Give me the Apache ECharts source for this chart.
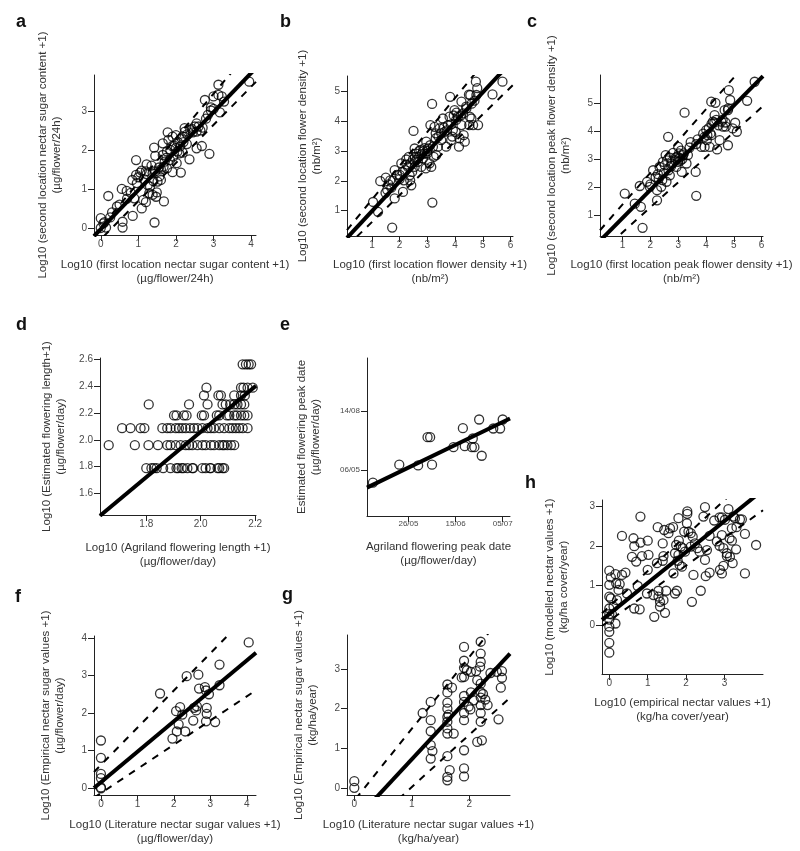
<!DOCTYPE html>
<html><head><meta charset="utf-8">
<script src="https://cdn.jsdelivr.net/npm/echarts@6/dist/echarts.min.js"></script>
<style>html,body{margin:0;padding:0;background:#fff}#c{width:800px;height:851px}</style>
</head><body><div id="c"></div>
<script>
// ---------- DATA ----------
const aPoints = [[0,0.25],[0,0],[0.14,0.01],[0.07,0.12],[0.58,0.01],[0.58,0.16],[0.25,0.27],[0.43,0.55],[0.2,0.82],[0.56,1.0],[0.69,0.95],[0.84,1.23],[0.85,0.31],[0.89,0.76],[0.94,1.74],[0.96,1.15],[0.94,1.36],[1.05,1.42],[1.09,1.47],[1.09,0.5],[1.13,0.72],[1.2,0.66],[1.22,1.38],[1.22,1.63],[1.29,0.89],[1.31,1.06],[1.38,0.85],[1.38,1.4],[1.42,2.06],[1.45,1.85],[1.43,0.14],[1.47,0.8],[1.49,0.91],[1.51,1.19],[1.56,1.32],[1.6,1.23],[1.65,2.17],[1.65,1.87],[1.67,1.57],[1.68,0.68],[1.76,1.53],[1.76,1.96],[1.78,2.45],[1.8,2.26],[1.84,1.74],[1.91,2.34],[1.91,1.43],[1.93,1.83],[1.95,2.11],[2.0,2.38],[2.02,1.66],[2.04,1.96],[2.09,1.91],[2.11,2.09],[2.13,1.42],[2.18,1.93],[2.18,2.34],[2.23,2.56],[2.24,2.47],[2.29,2.15],[2.36,1.76],[2.38,2.51],[2.42,2.54],[2.55,2.68],[2.55,2.47],[2.55,2.04],[2.69,2.1],[2.71,2.57],[2.77,3.28],[2.89,1.9],[2.93,3.01],[2.93,3.09],[3.0,3.37],[3.13,3.41],[3.17,2.96],[3.22,3.37],[3.28,3.24],[3.13,3.67],[3.95,3.75],[1.0,1.3],[1.15,1.25],[1.35,1.6],[1.55,1.55],[1.7,1.7],[1.85,2.0],[1.9,2.1],[2.0,2.05],[2.05,2.2],[1.75,1.8],[2.15,2.3],[2.3,2.4],[2.45,2.45],[2.6,2.6],[2.65,2.5],[0.3,0.4],[0.1,0.15],[0.5,0.6],[0.7,0.75],[0.8,0.9],[1.25,1.1],[1.4,1.2],[1.6,1.5],[2.2,2.2],[2.5,2.6],[2.8,2.8],[2.85,2.9],[3.0,3.05],[1.45,1.45],[1.2,1.45]];
const bPoints = [[1.04,1.29],[1.22,0.96],[1.3,1.99],[1.49,1.6],[1.5,2.11],[1.6,1.88],[1.66,2.02],[1.7,1.77],[1.73,0.43],[1.82,2.36],[1.82,1.41],[2.0,2.06],[2.06,2.59],[2.12,1.63],[2.15,2.02],[2.2,2.36],[2.24,2.72],[2.3,2.47],[2.33,2.81],[2.36,2.19],[2.38,2.02],[2.42,1.85],[2.45,2.3],[2.48,2.72],[2.5,3.68],[2.54,3.09],[2.54,2.47],[2.6,2.92],[2.66,2.64],[2.7,2.81],[2.75,3.04],[2.78,2.47],[2.84,2.75],[2.9,2.92],[2.94,2.42],[2.96,3.32],[2.99,2.92],[3.02,3.09],[3.08,2.59],[3.11,3.88],[3.17,4.59],[3.18,1.27],[3.14,2.47],[3.2,3.15],[3.23,2.81],[3.26,3.82],[3.3,3.43],[3.32,2.87],[3.38,3.15],[3.44,3.77],[3.5,3.37],[3.56,4.1],[3.62,3.65],[3.68,3.15],[3.74,3.88],[3.8,4.16],[3.86,3.37],[3.9,3.49],[3.82,4.83],[3.92,3.71],[3.98,4.38],[4.02,3.65],[4.04,4.05],[4.1,4.16],[4.14,3.15],[4.16,3.43],[4.23,4.67],[4.23,3.88],[4.29,4.27],[4.31,3.54],[4.35,3.32],[4.41,4.44],[4.53,4.16],[4.51,3.88],[4.55,4.89],[4.59,4.1],[4.65,3.88],[4.75,5.34],[4.77,4.89],[4.83,3.88],[4.8,5.12],[5.35,4.91],[5.71,5.34],[2.0,2.2],[2.1,2.3],[2.25,2.55],[2.4,2.6],[2.6,2.7],[2.7,3.0],[2.8,2.9],[2.9,3.1],[3.0,3.0],[3.1,3.2],[3.3,3.6],[3.5,3.6],[3.6,3.8],[3.7,3.7],[3.85,3.9],[3.95,4.2],[4.05,4.3],[4.2,4.2],[4.4,4.5],[4.6,4.6],[4.7,4.7],[1.55,1.7],[1.75,2.0],[1.9,2.2],[2.55,2.8],[2.85,3.0],[3.4,3.5],[4.5,4.9]];
const cPoints = [[1.08,1.77],[1.44,1.41],[1.72,0.55],[1.66,1.3],[1.62,2.04],[1.88,2.19],[1.98,2.01],[2.19,2.36],[2.24,1.53],[2.24,1.89],[2.27,2.46],[2.33,2.72],[2.39,2.01],[2.43,2.25],[2.48,2.51],[2.52,2.78],[2.55,3.14],[2.58,2.19],[2.64,3.79],[2.7,3.05],[2.7,2.42],[2.76,2.84],[2.82,3.22],[2.88,2.96],[2.94,2.72],[2.96,3.08],[3.0,3.43],[3.03,3.2],[3.08,2.94],[3.13,2.54],[3.18,3.14],[3.23,4.65],[3.3,2.84],[3.35,3.14],[3.41,3.41],[3.63,2.54],[3.65,1.69],[3.65,3.53],[3.83,3.43],[3.95,3.43],[3.95,3.79],[4.01,4.03],[4.03,3.67],[4.13,3.43],[4.16,3.91],[4.19,3.85],[4.25,4.33],[4.31,4.56],[4.37,4.39],[4.4,3.34],[4.49,3.67],[4.19,5.04],[4.34,5.0],[4.55,4.33],[4.61,4.15],[4.67,4.74],[4.71,4.15],[4.79,4.74],[4.79,3.49],[4.82,5.45],[4.87,5.1],[4.96,4.09],[5.05,4.29],[5.11,3.97],[5.48,5.07],[5.75,5.75],[2.1,2.6],[2.3,2.3],[2.6,2.95],[2.65,2.6],[2.75,2.75],[2.9,3.05],[3.0,2.9],[3.05,3.05],[3.1,3.3],[3.15,3.0],[3.2,3.2],[3.45,3.6],[3.7,3.7],[3.9,3.9],[4.05,3.85],[4.1,4.1],[4.2,4.25],[4.3,4.3],[4.45,4.2],[4.6,4.4],[4.7,4.3],[4.8,4.8],[2.45,2.9],[2.0,2.1]];
const dPoints = [[1.662,1.96],[1.758,1.96],[1.808,1.96],[1.843,1.96],[1.877,1.96],[1.889,1.96],[1.908,1.96],[1.926,1.96],[1.945,1.96],[1.957,1.96],[1.969,1.96],[1.988,1.96],[2.006,1.96],[2.018,1.96],[2.037,1.96],[2.049,1.96],[2.068,1.96],[2.08,1.96],[2.086,1.96],[2.098,1.96],[2.111,1.96],[2.123,1.96],
[1.711,2.087],[1.742,2.087],[1.779,2.087],[1.793,2.087],[1.859,2.087],[1.877,2.087],[1.889,2.087],[1.908,2.087],[1.92,2.087],[1.932,2.087],[1.945,2.087],[1.961,2.087],[1.975,2.087],[1.988,2.087],[2.006,2.087],[2.025,2.087],[2.037,2.087],[2.049,2.087],[2.068,2.087],[2.086,2.087],[2.105,2.087],[2.117,2.087],[2.129,2.087],[2.141,2.087],[2.154,2.087],[2.172,2.087],
[1.80,1.789],[1.819,1.789],[1.828,1.789],[1.838,1.789],[1.862,1.789],[1.889,1.789],[1.911,1.789],[1.917,1.789],[1.930,1.789],[1.936,1.789],[1.951,1.789],[1.969,1.789],[1.972,1.789],[2.006,1.789],[2.018,1.789],[2.034,1.789],[2.037,1.789],[2.062,1.789],[2.068,1.789],[2.080,1.789],[2.086,1.789],
[1.902,2.182],[1.911,2.182],[1.938,2.182],[1.948,2.182],[2.004,2.182],[2.012,2.182],[2.059,2.182],[2.068,2.182],[2.096,2.182],[2.105,2.182],[2.123,2.182],[2.133,2.182],[2.148,2.182],[2.160,2.182],[2.172,2.182],
[1.809,2.264],[1.957,2.264],[2.025,2.264],[2.080,2.264],[2.092,2.264],[2.108,2.264],[2.123,2.264],[2.135,2.264],[2.148,2.264],[2.160,2.264],
[2.012,2.331],[2.065,2.331],[2.074,2.331],[2.123,2.331],[2.148,2.331],[2.162,2.331],
[2.021,2.389],[2.148,2.389],[2.157,2.389],[2.172,2.389],[2.191,2.389],
[2.154,2.563],[2.166,2.563],[2.176,2.563],[2.185,2.563]];
// panel e: day of year
const ePoints = [[130.9,104.6],[142.1,135.2],[150.1,134],[156.0,135.2],[154.1,182],[155.2,182],[165.1,165],[169.1,197.2],[169.9,166.7],[172.9,165],[174.0,165],[173.3,179.7],[176.0,212],[177.1,150.4],[182.0,196.7],[184.9,196.7],[186.0,212]];
const fPoints = [[0,1.27],[0,0.81],[0,0.38],[0,0.27],[0,0],[0,0.02],[1.62,2.52],[2.35,2.98],[2.67,3.02],[1.96,1.32],[2.08,1.51],[2.06,2.05],[2.17,2.16],[2.13,1.7],[2.23,1.96],[2.31,1.51],[2.53,1.8],[2.55,2.14],[2.61,2.07],[2.63,2.18],[2.69,2.65],[2.85,2.69],[2.88,2.6],[2.96,2.5],[2.9,2.14],[2.9,1.98],[2.88,1.78],[3.13,1.76],[3.25,3.29],[3.25,2.74],[4.05,3.88]];
const gPoints = [[0,0.17],[0,0],[1.19,1.89],[1.33,2.17],[1.33,1.71],[1.33,1.43],[1.33,1.08],[1.36,0.93],[1.33,0.74],[1.62,2.61],[1.62,2.41],[1.7,2.53],[1.62,2.15],[1.62,2.0],[1.64,1.85],[1.62,1.79],[1.62,1.67],[1.62,1.5],[1.62,1.37],[1.73,1.37],[1.62,0.8],[1.66,0.45],[1.62,0.28],[1.62,0.19],[1.91,3.56],[1.91,3.21],[1.91,3.03],[1.87,2.79],[1.91,2.8],[1.91,2.32],[1.91,2.17],[1.91,1.89],[1.91,1.71],[1.91,0.95],[1.91,0.49],[1.91,0.29],[1.99,2.05],[2.02,1.98],[2.03,2.41],[1.96,2.97],[2.03,2.93],[2.12,2.95],[2.2,3.69],[2.2,3.39],[2.2,3.18],[2.19,3.06],[2.14,2.72],[2.2,2.63],[2.2,2.42],[2.24,2.37],[2.2,2.28],[2.28,2.23],[2.32,2.09],[2.2,2.09],[2.2,1.89],[2.2,1.67],[2.22,1.2],[2.14,1.16],[2.37,2.9],[2.48,2.93],[2.57,2.95],[2.57,2.78],[2.55,2.53],[2.51,1.73],[2.08,2.21]];
const hPoints = [[0,1.38],[0.04,1.21],[0.16,1.29],[0,1.02],[0.18,1.06],[0.27,1.04],[0.33,1.27],[0.42,1.33],[0.33,2.26],[0,0.72],[0.04,0.68],[0.11,0.47],[0.2,0.63],[0.24,0.89],[0.46,0.8],[0,0.42],[0,0.28],[0.07,0.27],[0,0.14],[0.16,0.04],[0,-0.04],[0,-0.17],[0,-0.45],[0,-0.7],[0.63,2.2],[0.65,2.0],[0.81,2.09],[1.0,2.14],[0.59,1.73],[0.7,1.61],[0.85,1.75],[1.02,1.78],[0.81,2.75],[1.26,2.48],[0.79,0.4],[0.65,0.42],[0.74,0.99],[1.0,1.4],[0.98,0.8],[1.15,0.76],[1.17,0.21],[1.28,0.87],[1.28,0.72],[1.32,0.59],[1.32,0.47],[1.41,0.63],[1.45,0.31],[1.48,0.87],[1.24,1.57],[1.39,1.63],[1.41,1.75],[1.39,2.07],[1.43,2.41],[1.54,2.33],[1.58,2.45],[1.66,2.48],[1.8,2.71],[1.71,1.82],[1.74,2.03],[1.81,2.14],[1.86,1.99],[1.67,1.31],[1.71,0.8],[1.76,0.87],[1.8,1.78],[1.78,1.63],[1.83,1.52],[1.89,1.48],[1.91,1.95],[1.97,1.86],[2.03,2.88],[2.03,2.82],[2.02,2.58],[1.95,2.37],[2.06,2.37],[2.12,2.33],[2.17,2.24],[2.23,2.07],[2.12,1.99],[2.29,1.95],[2.35,1.86],[2.19,1.27],[2.38,0.87],[2.15,0.59],[2.49,2.99],[2.45,2.75],[2.49,1.65],[2.54,1.9],[2.51,1.24],[2.61,1.33],[2.61,2.26],[2.73,2.65],[2.87,2.73],[2.93,2.73],[3.01,2.67],[2.8,2.12],[2.87,2.01],[2.93,2.28],[2.97,1.95],[3.06,1.82],[3.06,1.75],[3.14,1.73],[3.13,2.2],[3.19,2.14],[3.19,2.45],[3.27,2.71],[3.4,2.68],[3.45,2.68],[3.3,1.92],[2.88,1.4],[2.97,1.5],[3.21,1.57],[2.93,1.31],[3.53,2.31],[3.53,1.31],[3.82,2.03],[3.1,2.94],[3.23,2.75],[3.31,2.48]];

// regression lines: [intercept, slope] for solid, upper dashed, lower dashed
const aLines = [[-0.03,1.0],[0.02,1.14],[-0.29,0.977]];
const bLines = [[-0.02,1.0],[0.23,1.14],[-0.29,0.906]];
const cLines = [[-0.1,1.0],[0.25,1.13],[-0.5,0.89]];
const dLines = [[-1.32,1.69]];
const eLines = [[-152.1,1.934]];
const fLines = [[0.16,0.81],[0.62,0.99],[-0.13,0.644]];
const gLines = [[-0.84,1.56],[-0.32,1.81],[-1.30,1.32]];
const hLines = [[0.28,0.786],[0.47,0.90],[0.11,0.70]];

// tick values and labels
const aXTicks=[0,1,2,3,4], aYTicks=[0,1,2,3];
const bXTicks=[1,2,3,4,5,6], bYTicks=[1,2,3,4,5];
const cXTicks=[1,2,3,4,5,6], cYTicks=[1,2,3,4,5];
const dXTicks=[1.8,2.0,2.2], dYTicks=[1.6,1.8,2.0,2.2,2.4,2.6];
const eXTicks=[146,166,186], eXLabels=['26/05','15/06','05/07'];
const eYTicks=[126,226], eYLabels=['06/05','14/08'];
const fXTicks=[0,1,2,3,4], fYTicks=[0,1,2,3,4];
const gXTicks=[0,1,2], gYTicks=[0,1,2,3];
const hXTicks=[0,1,2,3], hYTicks=[0,1,2,3];

// ---------- LAYOUT ----------
const FONT = '"Liberation Sans", Arial, sans-serif';
const panels = [
 {letter:'a', lx:16, ly:13, grid:[94,75,162,160], x:[-0.18,4.13], y:[-0.18,3.92], pts:aPoints, lines:aLines, xt:aXTicks, yt:aYTicks,
  xn:'Log10 (first location nectar sugar content +1)\n(µg/flower/24h)', yn:'Log10 (second location nectar sugar content +1)\n(µg/flower/24h)', xg:23, yg:30},
 {letter:'b', lx:280, ly:13, grid:[347,76,166,160], x:[0.1,6.09], y:[0.145,5.53], pts:bPoints, lines:bLines, xt:bXTicks, yt:bYTicks,
  xn:'Log10 (first location flower density +1)\n(nb/m²)', yn:'Log10 (second location flower density +1)\n(nb/m²)', xg:22, yg:23},
 {letter:'c', lx:527, ly:13, grid:[600,75,163,161], x:[0.19,6.05], y:[0.26,5.99], pts:cPoints, lines:cLines, xt:cXTicks, yt:cYTicks,
  xn:'Log10 (first location peak flower density +1)\n(nb/m²)', yn:'Log10 (second location peak flower density +1)\n(nb/m²)', xg:22, yg:27},
 {letter:'d', lx:16, ly:316, grid:[100,358,156,157], x:[1.63,2.203], y:[1.44,2.61], pts:dPoints, lines:dLines, xt:dXTicks, yt:dYTicks, dec:1,
  xn:'Log10 (Agriland flowering length +1)\n(µg/flower/day)', yn:'Log10 (Estimated flowering length+1)\n(µg/flower/day)', xg:26, yg:32},
 {letter:'e', lx:280, ly:316, grid:[367,358,143,158], x:[128.4,189.1], y:[48,316.5], pts:ePoints, lines:eLines, xt:eXTicks, yt:eYTicks, xl:eXLabels, yl:eYLabels, small:true,
  xn:'Agriland flowering peak date\n(µg/flower/day)', yn:'Estimated flowering peak date\n(µg/flower/day)', xg:24, yg:44},
 {letter:'f', lx:15, ly:588, grid:[94,636,162,159], x:[-0.19,4.25], y:[-0.18,4.05], pts:fPoints, lines:fLines, xt:fXTicks, yt:fYTicks,
  xn:'Log10 (Literature nectar sugar values +1)\n(µg/flower/day)', yn:'Log10 (Empirical nectar sugar values +1)\n(µg/flower/day)', xg:23, yg:27},
 {letter:'g', lx:282, ly:586, grid:[347,635,163,160], x:[-0.127,2.71], y:[-0.18,3.86], pts:gPoints, lines:gLines, xt:gXTicks, yt:gYTicks,
  xn:'Log10 (Literature nectar sugar values +1)\n(kg/ha/year)', yn:'Log10 (Empirical nectar sugar values +1)\n(kg/ha/year)', xg:23, yg:27},
 {letter:'h', lx:525, ly:474, grid:[602,500,161,174], x:[-0.19,4.0], y:[-1.24,3.17], pts:hPoints, lines:hLines, xt:hXTicks, yt:hYTicks,
  xn:'Log10 (empirical nectar values +1)\n(kg/ha cover/year)', yn:'Log10 (modelled nectar values +1)\n(kg/ha cover/year)', xg:22, yg:31}
];

const AX = '#222', LBL = '#4a4a4a', TTL = '#333';
const option = {animation:false, backgroundColor:'#fff', title:[], grid:[], xAxis:[], yAxis:[], series:[]};

function lbl(ticks, labels, dec){
  return function(v){
    const i = ticks.indexOf(v);
    if (labels && i >= 0) return labels[i];
    return dec ? v.toFixed(dec) : String(v);
  };
}

panels.forEach((p, i) => {
  option.title.push({text:p.letter, left:p.lx, top:p.ly, padding:0, textStyle:{fontFamily:FONT, fontSize:18, fontWeight:'bold', color:'#111'}});
  option.grid.push({left:p.grid[0], top:p.grid[1], width:p.grid[2], height:p.grid[3], containLabel:false});
  const fs = p.small ? 8 : 10;
  const common = {
    gridIndex:i, type:'value', scale:true,
    axisLine:{show:true, onZero:false, lineStyle:{color:AX, width:1}},
    splitLine:{show:false},
    nameLocation:'middle',
    nameTextStyle:{fontFamily:FONT, fontSize:11.5, lineHeight:14, color:TTL}
  };
  option.xAxis.push(Object.assign({}, common, {
    min:p.x[0], max:p.x[1], name:p.xn, nameGap:p.xg,
    axisTick:{show:true, length:6, inside:false, customValues:p.xt, lineStyle:{color:AX}},
    axisLabel:{customValues:p.xt, margin:4, fontFamily:FONT, fontSize:fs, color:LBL, formatter:lbl(p.xt, p.xl, p.dec)}
  }));
  option.yAxis.push(Object.assign({}, common, {
    min:p.y[0], max:p.y[1], name:p.yn, nameGap:p.yg, nameRotate:90,
    axisTick:{show:true, length:6, inside:false, customValues:p.yt, lineStyle:{color:AX}},
    axisLabel:{customValues:p.yt, margin:7, fontFamily:FONT, fontSize:fs, color:LBL, formatter:lbl(p.yt, p.yl, p.dec)}
  }));
  option.series.push({
    type:'scatter', xAxisIndex:i, yAxisIndex:i, data:p.pts, symbol:'circle', symbolSize:9,
    itemStyle:{color:'rgba(0,0,0,0)', borderColor:'#000', borderWidth:1.3}, silent:true, z:2
  });
  p.lines.forEach((c, k) => {
    const x0 = p.x[0], x1 = p.x[1];
    option.series.push({
      type:'line', xAxisIndex:i, yAxisIndex:i, symbol:'none', silent:true, clip:true, z:3,
      data:[[x0, c[0] + c[1]*x0], [x1, c[0] + c[1]*x1]],
      lineStyle: k === 0 ? {color:'#000', width:4} : {color:'#000', width:2, type:[7,7]}
    });
  });
});

const chart = echarts.init(document.getElementById('c'), null, {renderer:'canvas'});
chart.setOption(option);
</script>
</body></html>
